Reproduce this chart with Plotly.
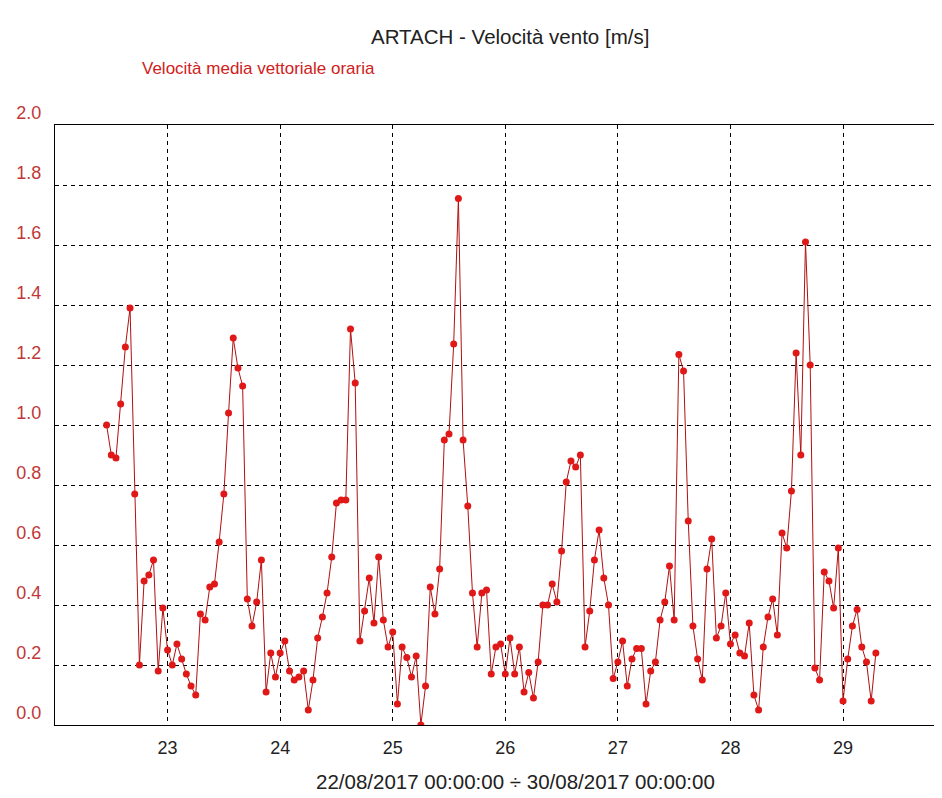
import pandas as pd
import plotly.graph_objects as go

# Hourly vector-mean wind speed [m/s], starting 22/08/2017 11:00
start_time = "2017-08-22 11:00"
speed = [
    1.00, 0.90, 0.89, 1.07, 1.26, 1.39, 0.77, 0.20, 0.48, 0.50, 0.55, 0.18, 0.39,
    0.25, 0.20, 0.27, 0.22, 0.17, 0.13, 0.10, 0.37, 0.35, 0.46, 0.47, 0.61, 0.77,
    1.04, 1.29, 1.19, 1.13, 0.42, 0.33, 0.41, 0.55, 0.11, 0.24, 0.16,
    0.24, 0.28, 0.18, 0.15, 0.16, 0.18, 0.05, 0.15, 0.29, 0.36, 0.44, 0.56, 0.74,
    0.75, 0.75, 1.32, 1.14, 0.28, 0.38, 0.49, 0.34, 0.56, 0.35, 0.26,
    0.31, 0.07, 0.26, 0.225, 0.16, 0.23, 0.00, 0.13, 0.46, 0.37, 0.52, 0.95, 0.97,
    1.27, 1.755, 0.95, 0.73, 0.44, 0.26, 0.44, 0.45, 0.17, 0.26, 0.27,
    0.17, 0.29, 0.17, 0.26, 0.11, 0.175, 0.09, 0.21, 0.40, 0.40, 0.47, 0.41, 0.58,
    0.81, 0.88, 0.86, 0.90, 0.26, 0.38, 0.55, 0.65, 0.49, 0.40, 0.155,
    0.21, 0.28, 0.13, 0.22, 0.255, 0.255, 0.07, 0.18, 0.21, 0.35, 0.41, 0.53, 0.35,
    1.235, 1.18, 0.68, 0.33, 0.22, 0.15, 0.52, 0.62, 0.29, 0.33, 0.44,
    0.27, 0.30, 0.24, 0.23, 0.34, 0.10, 0.05, 0.26, 0.36, 0.42, 0.30, 0.64, 0.59,
    0.78, 1.24, 0.90, 1.61, 1.20, 0.19, 0.15, 0.51, 0.48, 0.39, 0.59,
    0.08, 0.22, 0.33, 0.385, 0.26, 0.21, 0.08, 0.24,
]
times = pd.date_range(start=start_time, periods=len(speed), freq="h")

day_ticks = ["2017-08-23", "2017-08-24", "2017-08-25", "2017-08-26",
             "2017-08-27", "2017-08-28", "2017-08-29"]
day_labels = ["23", "24", "25", "26", "27", "28", "29"]
y_ticks = [0.0, 0.2, 0.4, 0.6, 0.8, 1.0, 1.2, 1.4, 1.6, 1.8, 2.0]
y_labels = ["0.0", "0.2", "0.4", "0.6", "0.8", "1.0", "1.2", "1.4", "1.6", "1.8", "2.0"]

title_text = "ARTACH - Velocità vento [m/s]"
series_name = "Velocità media vettoriale oraria"
x_title = "22/08/2017 00:00:00 ÷ 30/08/2017 00:00:00"

FONT = "Liberation Sans, Arial, sans-serif"

fig = go.Figure()
fig.add_trace(go.Scatter(
    x=times, y=speed, mode="lines+markers", name=series_name,
    line=dict(color="#b01010", width=1),
    marker=dict(color="#e01818", size=7, line=dict(width=0)),
    showlegend=False,
))

# page body has an 8px margin: figure is 934x790 placed at (8, 8)
fig.update_layout(
    width=934, height=790,
    margin=dict(l=47, r=0, t=117, b=73),
    paper_bgcolor="white", plot_bgcolor="white",
    font=dict(family=FONT, size=18, color="#222222"),
    xaxis=dict(
        type="date",
        range=["2017-08-22 00:00", "2017-08-29 21:06"],
        tickmode="array", tickvals=day_ticks, ticktext=day_labels,
        showgrid=True, gridcolor="black", gridwidth=1, griddash="4px,4px",
        showline=True, linecolor="black", linewidth=1, mirror=True,
        ticks="", zeroline=False,
        tickfont=dict(family=FONT, size=18, color="#222222"),
        ticklabelstandoff=6,
    ),
    yaxis=dict(
        range=[0, 2.0],
        tickmode="array", tickvals=y_ticks, ticktext=y_labels,
        showgrid=True, gridcolor="black", gridwidth=1, griddash="4px,4px",
        showline=True, linecolor="black", linewidth=1, mirror=False,
        ticks="", zeroline=False,
        tickfont=dict(family=FONT, size=18, color="#c03838"),
        ticklabelshift=-12, ticklabelstandoff=9,
    ),
    annotations=[
        dict(text=title_text, xref="paper", yref="paper",
             x=(510 - 55) / 887, y=(725 - 37) / 600,
             xanchor="center", yanchor="middle", showarrow=False,
             font=dict(family=FONT, size=20.5, color="#222222")),
        dict(text=series_name, xref="paper", yref="paper",
             x=(140 - 55) / 887, y=(725 - 68) / 600,
             xanchor="left", yanchor="middle", showarrow=False,
             font=dict(family=FONT, size=17, color="#d02020")),
        dict(text=x_title, xref="paper", yref="paper",
             x=(515 - 55) / 887, y=(725 - 781) / 600,
             xanchor="center", yanchor="middle", showarrow=False,
             font=dict(family=FONT, size=20.5, color="#222222")),
    ],
)

fig.write_html("out.html")
